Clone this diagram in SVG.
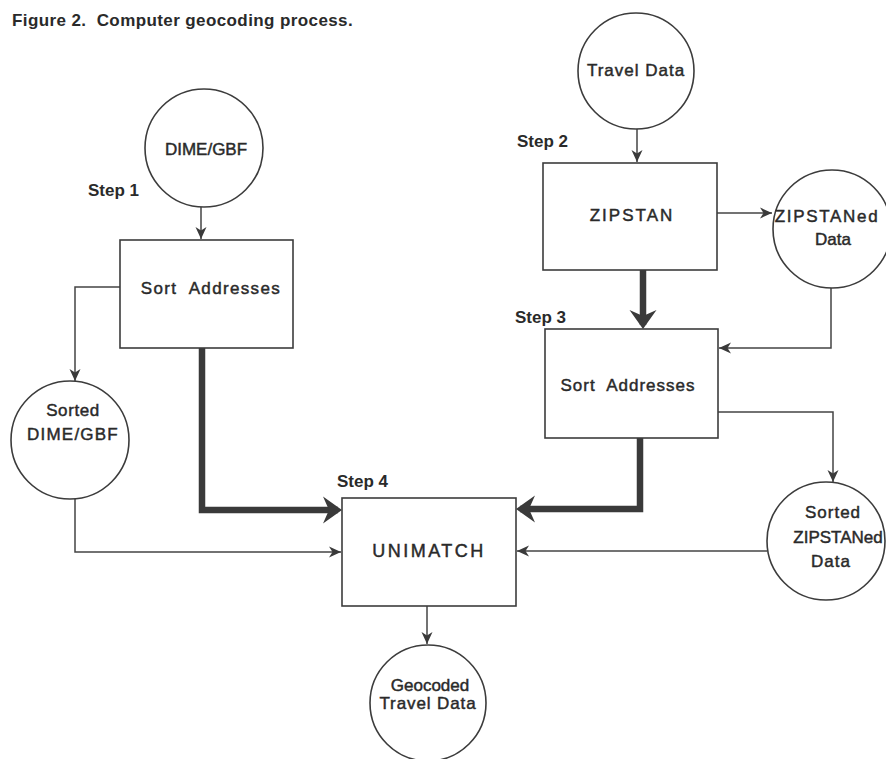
<svg xmlns="http://www.w3.org/2000/svg" width="886" height="759" viewBox="0 0 886 759">
<style>
.bg{fill:#fff}
.box{fill:#fff;stroke:#3c3c3c;stroke-width:1.6}
.circ{fill:#fff;stroke:#3c3c3c;stroke-width:1.6}
.thin{fill:none;stroke:#444;stroke-width:1.5}
.thick{fill:none;stroke:#3a3a3a;stroke-width:6.5;stroke-linejoin:miter}
text{white-space:pre}
.t{font-family:"Liberation Sans",Arial,sans-serif;font-size:17px;fill:#2a2a2a;stroke:#2a2a2a;stroke-width:0.45;text-anchor:middle}
.step{font-family:"Liberation Sans",Arial,sans-serif;font-size:17px;font-weight:bold;fill:#2a2a2a}
.title{font-family:"Liberation Sans",Arial,sans-serif;font-size:17px;font-weight:bold;fill:#2a2a2a;letter-spacing:0.4px}
</style>
<defs>
<marker id="ah" viewBox="-13 -6 14 12" refX="0" refY="0" markerWidth="14" markerHeight="12" markerUnits="userSpaceOnUse" orient="auto">
<path d="M0,0 L-12,-5.5 L-8.5,0 L-12,5.5 Z" fill="#3a3a3a"/>
</marker>
<marker id="ahb" viewBox="-16 -15 22 30" refX="0" refY="0" markerWidth="22" markerHeight="30" markerUnits="userSpaceOnUse" orient="auto">
<path d="M4,0 L-15,-13.5 L-9,0 L-15,13.5 Z" fill="#3a3a3a"/>
</marker>
</defs>
<rect class="bg" x="0" y="0" width="886" height="759"/>
<text class="title" x="12" y="26" xml:space="preserve">Figure 2.  Computer geocoding process.</text>

<g id="connectors">
<path class="thin" d="M201,207 V239" marker-end="url(#ah)"/>
<path class="thin" d="M120,287 H75 V381" marker-end="url(#ah)"/>
<path class="thin" d="M75,499 V552 H341" marker-end="url(#ah)"/>
<path class="thick" d="M202,348 V510 H338" marker-end="url(#ahb)"/>
<path class="thin" d="M637,129 V162" marker-end="url(#ah)"/>
<path class="thin" d="M717,213 H772" marker-end="url(#ah)"/>
<path class="thick" d="M643,270 V325" marker-end="url(#ahb)"/>
<path class="thin" d="M831,288 V348 H719" marker-end="url(#ah)"/>
<path class="thin" d="M718,412 H833 V482" marker-end="url(#ah)"/>
<path class="thick" d="M640,438 V509 H520" marker-end="url(#ahb)"/>
<path class="thin" d="M767,551 H517" marker-end="url(#ah)"/>
<path class="thin" d="M427,606 V644" marker-end="url(#ah)"/>
</g>

<g id="dime-gbf">
<circle class="circ" cx="204" cy="148" r="59"/>
<text class="t" x="206" y="155">DIME/GBF</text>
</g>

<g id="step1">
<text class="step" x="88" y="196">Step 1</text>
<rect class="box" x="120" y="240" width="173" height="108"/>
<text class="t" x="211" y="294" xml:space="preserve" style="letter-spacing:1.35px">Sort  Addresses</text>
</g>

<g id="sorted-dime-gbf">
<circle class="circ" cx="70" cy="440" r="59"/>
<text class="t" x="73" y="416" style="letter-spacing:0.6px">Sorted</text>
<text class="t" x="73" y="440" style="letter-spacing:1.2px">DIME/GBF</text>
</g>

<g id="travel-data">
<circle class="circ" cx="636" cy="71" r="58"/>
<text class="t" x="636" y="76" style="letter-spacing:1px">Travel Data</text>
</g>

<g id="step2">
<text class="step" x="517" y="147">Step 2</text>
<rect class="box" x="543" y="163" width="174" height="107"/>
<text class="t" x="632" y="221" style="letter-spacing:2px">ZIPSTAN</text>
</g>

<g id="zipstaned-data">
<circle class="circ" cx="832" cy="229" r="59"/>
<text class="t" x="827" y="222" style="letter-spacing:1.7px">ZIPSTANed</text>
<text class="t" x="833" y="245">Data</text>
</g>

<g id="step3">
<text class="step" x="515" y="323">Step 3</text>
<rect class="box" x="545" y="329" width="173" height="109"/>
<text class="t" x="628" y="391" xml:space="preserve" style="letter-spacing:1px">Sort  Addresses</text>
</g>

<g id="sorted-zipstaned-data">
<circle class="circ" cx="826" cy="541" r="59"/>
<text class="t" x="833" y="518" style="letter-spacing:1px">Sorted</text>
<text class="t" x="838" y="543">ZIPSTANed</text>
<text class="t" x="831" y="567" style="letter-spacing:1px">Data</text>
</g>

<g id="step4">
<text class="step" x="337" y="487">Step 4</text>
<rect class="box" x="342" y="498" width="174" height="108"/>
<text class="t" x="429" y="557" style="letter-spacing:2.5px;font-size:18px">UNIMATCH</text>
</g>

<g id="geocoded-travel-data">
<circle class="circ" cx="428" cy="703" r="58"/>
<text class="t" x="430" y="691">Geocoded</text>
<text class="t" x="428" y="709" style="letter-spacing:0.9px">Travel Data</text>
</g>
</svg>
